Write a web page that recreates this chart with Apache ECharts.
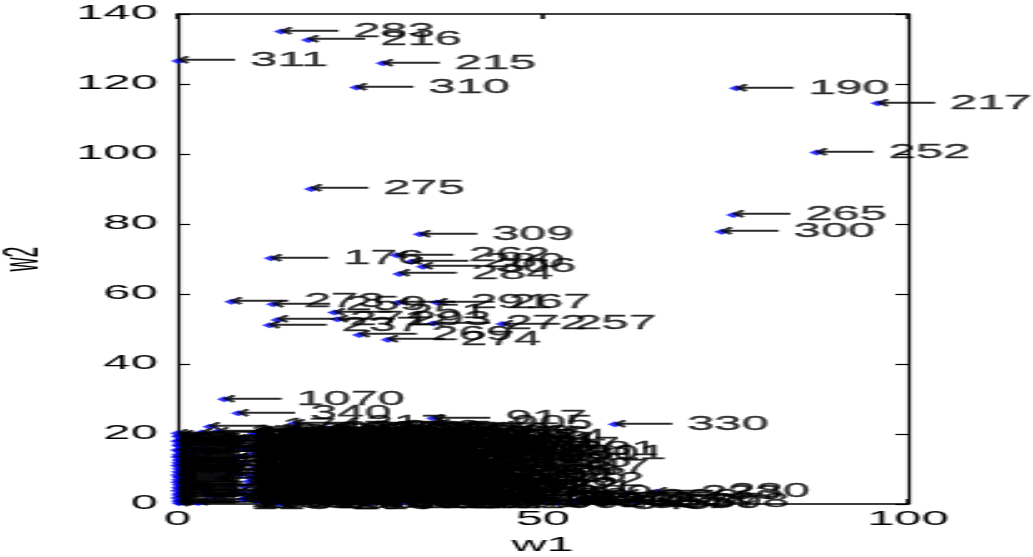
<!DOCTYPE html>
<html><head><meta charset="utf-8">
<script src="https://cdn.jsdelivr.net/npm/echarts@6/dist/echarts.min.js"></script>
<style>
html,body{margin:0;padding:0;background:#fff;overflow:hidden;width:1033px;height:557px;}
#chart{width:413px;height:557px;transform:scaleX(2.5012);transform-origin:0 0;}
</style></head><body><div id="chart"></div>
<script>
// w1 (x), w2 (y) and point ids, group by group
const w1 = [
  // isolated points
  14.2,17.9,0.1,28.1,24.5,18.3,76.5,95.9,87.5,76.1,74.5,33.2,12.8,30.0,32.0,33.6,30.4,7.4,13.1,30.2,35.5,21.5,21.9,13.7,12.6,35.0,44.5,24.9,28.8,6.4,8.3,
  // column on the w2 axis
  0.0,0.3,0.1,0.5,0.2,0.0,0.4,0.1,0.3,0.6,0.0,0.2,0.5,0.1,0.3,0.0,0.4,0.2,0.1,0.5,0.0,0.3,0.2,0.6,0.1,0.4,0.0,0.2,0.3,0.1,0.5,0.0,0.2,0.4,0.1,0.3,0.0,0.6,0.2,0.1,0.4,0.0,0.3,0.1,0.2,
  0.8,1.2,0.7,1.4,0.9,1.1,0.6,1.3,0.8,1.0,1.5,0.7,1.2,0.9,1.4,0.6,1.1,0.8,1.3,1.0,0.7,1.2,0.9,1.4,0.6,1.1,0.8,1.3,1.0,0.7,
  // dense cluster
  4.4,3.3,2.5,3.4,2.9,3.6,3.1,2.8,
  5.6,6.7,8.9,7.4,9.6,8.2,9.1,8.6,9.8,8.3,9.4,
  10.4,12.6,11.3,13.8,10.9,14.5,12.1,10.2,13.4,11.7,14.8,10.6,12.9,14.1,11.0,13.6,10.3,12.4,14.7,11.5,13.2,10.8,14.3,
  15.4,17.2,19.3,16.1,18.5,15.8,19.9,17.0,15.2,18.8,16.6,19.1,15.7,17.9,16.3,19.6,15.1,18.2,16.9,19.4,15.9,17.6,16.0,
  20.7,22.8,24.1,21.3,23.5,20.2,24.6,22.0,20.9,23.8,21.6,24.3,20.4,22.7,24.9,21.1,23.2,20.6,24.4,22.3,21.8,23.9,
  25.5,27.3,29.4,26.2,28.7,25.9,27.8,29.1,26.6,28.2,25.3,29.7,27.0,25.7,28.9,26.4,29.2,27.5,25.1,28.4,
  30.6,32.2,34.0,31.4,33.7,30.3,32.8,34.5,31.1,33.2,30.8,34.5,32.0,33.9,30.5,32.5,34.2,31.6,33.4,30.9,
  35.0,35.9,35.6,37.2,38.4,36.1,37.8,35.3,38.9,36.6,39.4,35.9,37.5,39.0,36.3,
  42.3,45.9,44.8,41.2,43.6,40.5,42.9,41.7,44.1,45.2,40.8,43.3,46.5,
  59.9,50.0,54.6,54.6,57.3,59.1,61.7,65.6,62.8,52.1,56.0,
  11.8,13.1,15.0,16.8,18.1,19.7,21.0,22.5,23.7,25.0,26.9,28.0,29.8,31.2,32.7,34.8,36.9,38.0,12.2,14.9,17.4,20.1,23.0,26.1,29.5,31.9,34.1,36.4,38.6,11.4,15.6,18.9,22.1,24.8,27.6,30.1,33.0,35.4,37.7,39.6,
  3.9,6.2,8.8,11.6,14.2,16.9,19.5,22.2,24.7,27.1,29.9,32.4,35.1,9.9,
  4.8,7.7,10.1,12.8,15.5,18.0,20.6,23.3,25.9,28.5,31.0,33.6,36.2,13.0,
  5.2,9.3,13.7,17.8,21.9,26.0,30.2,34.3,6.6,2.1,
  3.2,7.0,11.1,15.3,19.2,23.6,27.7,31.8,8.0,1.0,
  6.0,10.7,16.2,21.4,26.7,31.5,4.2,12.4,
  2.3,5.0,7.9,10.6,13.5,16.4,19.0,21.7,24.2,26.8,11.8,6.9,
  3.7,6.4,9.2,12.0,14.6,17.3,20.0,22.9,25.4,17.6,15.9,
  2.0,4.6,7.3,10.0,12.7,15.3,18.2,20.8,23.4,26.3,8.1,4.9,
  3.0,5.8,8.5,11.3,14.0,16.7,19.8,22.6,25.2,27.9,12.9,
  4.1,9.0,13.9,18.6
];
const w2 = [
  135.0,132.6,126.6,125.9,119.0,90.0,118.8,114.5,100.4,82.6,77.8,77.1,70.2,71.1,69.2,67.8,65.7,57.8,57.1,57.5,57.6,54.7,52.8,52.6,51.1,51.6,51.4,48.3,46.9,29.9,25.9,
  20.2,19.5,19.3,18.6,18.1,17.9,17.2,16.8,16.6,15.9,15.4,15.2,14.8,14.1,13.6,13.4,12.7,12.5,11.8,11.6,11.0,10.7,10.1,9.8,9.2,8.9,8.3,7.8,7.6,6.9,6.5,6.2,5.6,5.3,4.7,4.4,3.8,3.5,2.9,2.6,2.0,1.7,1.1,0.8,0.2,
  19.9,19.0,18.4,17.6,16.9,16.3,15.6,14.9,14.4,13.8,13.0,12.4,11.9,11.3,10.5,9.9,9.4,8.7,8.1,7.4,6.7,6.0,5.5,4.9,4.2,3.6,3.0,2.3,1.4,0.5,
  22.1,20.4,17.9,15.0,12.2,9.6,5.4,0.3,
  20.8,19.4,18.6,16.5,15.7,13.3,11.6,8.3,6.4,3.6,1.5,
  20.3,21.2,19.0,18.2,17.0,16.4,15.2,14.1,13.0,12.3,11.2,10.3,9.5,8.7,7.6,6.6,5.7,4.6,3.8,2.7,1.8,0.8,0.2,
  21.0,20.1,19.6,18.7,17.5,16.3,15.4,14.6,13.4,12.5,11.6,10.7,9.8,8.9,7.8,6.9,5.8,4.9,3.7,2.6,1.7,0.6,23.0,
  21.6,20.5,19.2,18.3,17.4,16.2,15.5,14.3,13.1,12.2,11.0,10.1,9.2,8.0,7.2,6.1,5.0,3.9,2.8,1.9,0.7,0.3,
  20.9,19.8,18.7,17.6,16.5,15.1,14.0,12.9,11.8,10.6,9.7,8.6,7.4,6.3,5.2,4.0,3.1,2.0,0.9,0.4,
  19.5,19.0,19.1,17.8,16.6,15.4,14.3,13.2,12.0,10.9,9.6,9.7,8.4,7.1,6.0,4.9,3.8,2.5,1.3,0.5,
  24.5,23.0,17.3,15.9,13.8,12.4,10.8,9.1,7.9,6.5,5.1,3.9,2.4,1.2,0.4,
  14.5,14.5,15.4,12.0,10.3,8.1,6.7,4.4,3.0,1.6,2.2,0.6,0.9,
  22.8,0.7,1.1,0.4,0.9,0.5,3.0,3.5,0.6,0.2,1.8,
  18.9,16.0,13.9,12.0,19.9,9.9,17.9,15.9,13.6,11.3,19.1,16.9,14.6,12.6,17.2,15.0,18.1,11.9,5.1,3.2,6.2,2.3,4.4,8.2,1.6,5.5,7.6,4.6,9.9,21.0,21.3,20.9,21.2,20.7,20.4,20.6,20.2,19.9,18.9,16.8,
  18.2,17.0,15.8,14.9,13.7,12.8,11.5,10.4,9.1,8.0,6.8,5.9,4.6,3.3,
  10.8,9.5,8.6,7.3,6.1,5.0,3.8,2.7,1.4,0.6,16.2,15.1,14.0,12.9,
  2.0,4.9,1.0,3.4,0.5,2.9,1.8,0.8,2.6,5.3,
  13.1,12.0,17.6,19.3,14.5,18.9,16.1,13.9,11.0,10.5,
  7.3,19.8,20.5,18.4,17.9,15.6,14.9,12.3,
  19.0,17.7,16.4,15.1,14.0,12.7,11.4,10.2,8.9,7.7,6.5,5.2,
  3.9,2.8,1.6,0.5,19.6,18.3,17.1,15.8,14.7,13.5,12.2,
  11.1,9.9,8.8,7.5,6.3,5.1,3.9,2.6,1.5,0.3,18.8,17.4,
  16.2,14.9,13.6,12.4,11.2,10.0,8.7,7.5,6.2,5.0,3.7,
  2.5,1.2,0.1,19.4
];
const ids = [
  283,216,311,215,310,275,190,217,252,265,300,309,176,262,280,306,284,273,259,291,267,251,293,271,237,272,257,269,274,1070,340,
  101,1002,113,1015,106,124,1031,139,111,1044,130,105,1053,117,144,1060,126,103,1071,148,120,1083,109,135,1090,114,1008,142,121,1024,110,1037,147,132,1049,116,1056,127,138,1065,119,1077,134,1098,128,
  1302,1315,1327,1333,1348,1351,1366,1372,1389,1394,1405,1411,1428,1436,1447,1453,1469,1474,1482,1497,1508,1513,1526,1531,1549,1556,1562,1578,1583,1591,
  174,184,193,158,182,164,198,169,
  203,221,238,246,227,254,241,248,211,207,223,
  145,263,178,226,194,287,214,135,242,188,299,116,256,222,183,245,129,201,279,166,233,157,218,
  315,192,228,167,253,208,276,139,197,235,172,288,151,212,181,264,134,239,175,292,148,225,317,
  319,186,243,155,268,202,289,170,231,147,260,195,138,247,277,163,206,122,285,173,240,159,
  298,180,255,136,270,224,282,150,261,204,296,142,266,165,278,121,250,200,286,114,
  312,160,327,230,297,154,320,140,301,210,132,305,220,295,126,290,313,144,302,117,
  917,905,308,303,318,321,304,316,294,307,322,314,324,323,1100,
  381,801,281,325,347,328,362,331,389,334,356,372,338,
  330,342,351,367,374,359,233,280,378,345,363,
  406,415,423,431,448,452,467,473,489,494,501,512,526,533,547,558,561,579,583,596,602,618,624,637,645,651,669,676,688,693,704,712,725,739,741,758,763,776,784,797,
  802,813,827,834,846,851,865,872,889,893,808,816,829,837,
  841,855,862,878,884,897,903,911,926,933,948,952,967,971,
  982,995,918,924,939,943,957,961,976,985,
  1104,1112,1126,1133,1145,1158,1161,1179,1187,1193,
  1203,1218,1222,1236,1240,1257,1264,1271,
  102,117,125,138,141,159,163,174,186,195,209,212,
  224,236,243,258,267,271,285,292,204,219,223,
  237,246,250,268,275,281,299,203,216,220,234,248,
  262,277,283,291,205,214,226,238,241,253,267,
  272,289,294,208
];
const xTicks = {min: 0, max: 100, step: 50};
const yTicks = {min: 0, max: 140, step: 20};

const n = Math.min(w1.length, w2.length, ids.length);
const pts = [];
for (let i = 0; i < n; i++) pts.push([w1[i], w2[i], ids[i]]);

const FONT = "'Liberation Sans', Arial, Helvetica, sans-serif";
const axisBase = (w) => ({
  axisLine: {show: true, onZero: false, lineStyle: {color: '#000', width: w}},
  axisTick: {show: true, inside: true, length: 5, lineStyle: {color: '#000', width: w}},
  splitLine: {show: false}
});

const chart = echarts.init(document.getElementById('chart'), null, {renderer: 'canvas'});
chart.setOption({
  animation: false,
  backgroundColor: '#fff',
  grid: {left: 71, right: 50, top: 14, bottom: 53, containLabel: false, outerBoundsMode: 'none'},
  xAxis: [
    Object.assign({type: 'value', position: 'bottom', min: xTicks.min, max: xTicks.max, interval: xTicks.step,
      name: 'w1', nameLocation: 'middle', nameGap: 32,
      nameTextStyle: {color: '#000', fontSize: 19.5, fontFamily: FONT},
      axisLabel: {color: '#000', fontSize: 19.5, fontFamily: FONT, margin: 6}}, axisBase(1.6)),
    Object.assign({type: 'value', position: 'top', min: xTicks.min, max: xTicks.max, interval: xTicks.step,
      axisLabel: {show: false}}, axisBase(1.6))
  ],
  yAxis: [
    Object.assign({type: 'value', position: 'left', min: yTicks.min, max: yTicks.max, interval: yTicks.step,
      name: 'w2', nameLocation: 'middle', nameGap: 50, nameRotate: 90,
      nameTextStyle: {color: '#000', fontSize: 19.5, fontFamily: FONT},
      axisLabel: {color: '#000', fontSize: 19.5, fontFamily: FONT, margin: 8}}, axisBase(1.2)),
    Object.assign({type: 'value', position: 'right', min: yTicks.min, max: yTicks.max, interval: yTicks.step,
      axisLabel: {show: false}}, axisBase(1.2))
  ],
  series: [{
    type: 'scatter',
    xAxisIndex: 0, yAxisIndex: 0,
    clip: false,
    symbol: 'diamond',
    symbolSize: 6,
    itemStyle: {color: '#0000ff'},
    emphasis: {disabled: true},
    label: {
      show: true, position: 'right', distance: -4,
      formatter: (p) => '{a|\u27F5}{b| ' + p.value[2] + '}',
      rich: {
        a: {color: '#000', fontSize: 17, fontFamily: "'DejaVu Sans', sans-serif", textBorderColor: '#000', textBorderWidth: 0.5},
        b: {color: '#000', fontSize: 19.5, fontFamily: FONT, textBorderColor: '#000', textBorderWidth: 0.3}
      }
    },
    labelLayout: {hideOverlap: false},
    data: pts
  }]
});
</script></body></html>
